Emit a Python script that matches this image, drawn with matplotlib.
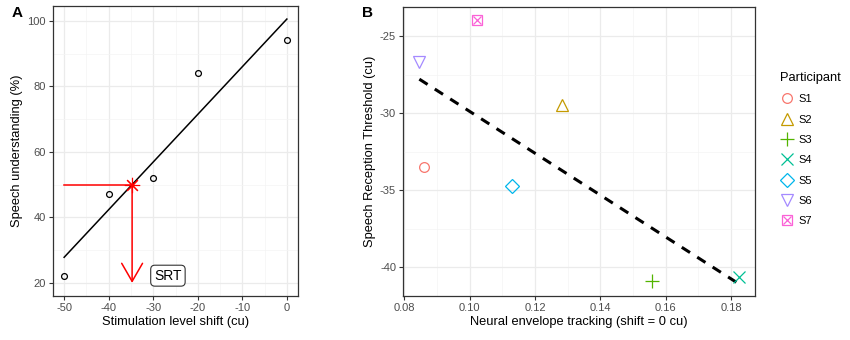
import numpy as np
import matplotlib
matplotlib.use("Agg")
import matplotlib.pyplot as plt
from matplotlib.lines import Line2D
from matplotlib.legend_handler import HandlerTuple

plt.rcParams['font.family'] = ['Liberation Sans', 'DejaVu Sans']
plt.rcParams['axes.unicode_minus'] = False

# Panel A data
shift_a = [-50, -40, -30, -20, 0]
understanding_a = [22, 47, 52, 84, 94]
srt_level = 50
arrow_bottom = 20

# Panel B data
participants = ["S1", "S2", "S3", "S4", "S5", "S6", "S7"]
tracking_b = [0.0860, 0.1281, 0.1557, 0.1824, 0.1131, 0.0846, 0.1021]
srt_b = [-33.52, -29.49, -40.86, -40.60, -34.73, -26.69, -23.94]
colors_b = ["#F8766D", "#C49A00", "#53B400", "#00C094", "#00B6EB", "#A58AFF", "#FB61D7"]
markers_b = ["o", "^", "+", "x", "D", "v", "sx"]
sizes_b = [7, 8.5, 10, 9, 7, 8.5, 7]

W, H = 850, 340
fig = plt.figure(figsize=(W / 100, H / 100), dpi=100)

def px_axes(l, t, r, b):
    return fig.add_axes([l / W, 1 - b / H, (r - l) / W, (b - t) / H])

GRID_MAJ = "#EBEBEB"
GRID_MIN = "#F4F4F4"
TICK_C = "#4D4D4D"

def style(ax):
    for s in ax.spines.values():
        s.set_color("#333333")
        s.set_linewidth(0.9)
    ax.set_axisbelow(True)
    ax.grid(True, which="major", color=GRID_MAJ, lw=0.9)
    ax.grid(True, which="minor", color=GRID_MIN, lw=0.5)
    ax.tick_params(which="major", colors="#333333", labelcolor=TICK_C,
                   labelsize=8, length=3, width=0.8, pad=2)
    ax.tick_params(which="minor", length=0)

# ---------- Panel A ----------
axA = px_axes(53, 6, 298, 296)
style(axA)
coef = np.polyfit(shift_a, understanding_a, 1)
xs = np.array([min(shift_a), max(shift_a)])
axA.plot(xs, np.polyval(coef, xs), color="black", lw=1.1, zorder=3)
axA.plot(shift_a, understanding_a, "o", mfc="none", mec="black", ms=4.2, mew=0.9, zorder=4)
srt_x = (srt_level - coef[1]) / coef[0]
axA.plot([min(shift_a), srt_x], [srt_level, srt_level], color="red", lw=1.1, zorder=3)
axA.annotate("", xy=(srt_x, arrow_bottom), xytext=(srt_x, srt_level),
             arrowprops=dict(arrowstyle="->,head_length=1.3,head_width=0.75",
                             mutation_scale=10, color="red", lw=1.1,
                             shrinkA=0, shrinkB=0), zorder=3)
axA.plot([srt_x], [srt_level], marker=(8, 2, 0), color="red", ms=11, mew=0.8, zorder=5)
axA.text(-26.7, 22.2, "SRT", fontsize=10, ha="center", va="center", color="black",
         bbox=dict(boxstyle="round,pad=0.25,rounding_size=0.3", fc="white", ec="#333333", lw=0.8))
axA.set_xlim(-52.5, 2.5)
axA.set_ylim(16, 104.5)
axA.set_xticks([-50, -40, -30, -20, -10, 0])
axA.set_xticks(np.arange(-45, 0, 10), minor=True)
axA.set_yticks([20, 40, 60, 80, 100])
axA.set_yticks([30, 50, 70, 90], minor=True)
axA.set_xlabel("Stimulation level shift (cu)", fontsize=9.3, labelpad=2)
axA.set_ylabel("Speech understanding (%)", fontsize=9.3, labelpad=3)
fig.text(12 / W, 1 - 13 / H, "A", fontsize=11, fontweight="bold", ha="left", va="center")

# ---------- Panel B ----------
axB = px_axes(403, 6.7, 755, 296)
style(axB)
cB = np.polyfit(tracking_b, srt_b, 1)
xb = np.array([min(tracking_b), max(tracking_b)])
axB.plot(xb, np.polyval(cB, xb), color="black", lw=2.2, ls=(0, (3.2, 2.8)), zorder=3)
handles = []
for x, y, c, m, s, lab in zip(tracking_b, srt_b, colors_b, markers_b, sizes_b, participants):
    if m == "sx":
        axB.plot([x], [y], "s", mfc="none", mec=c, ms=s, mew=0.9, zorder=4)
        axB.plot([x], [y], "x", color=c, ms=s * 0.8, mew=0.9, zorder=4)
        h = (Line2D([], [], ls="", marker="s", mfc="none", mec=c, ms=s, mew=0.9),
             Line2D([], [], ls="", marker="x", color=c, ms=s * 0.8, mew=0.9))
    else:
        axB.plot([x], [y], m, mfc="none", mec=c, color=c, ms=s, mew=0.9, zorder=4)
        h = Line2D([], [], ls="", marker=m, mfc="none", mec=c, color=c, ms=s, mew=0.9)
    handles.append(h)
axB.set_xlim(0.0796, 0.1873)
axB.set_ylim(-41.85, -23.1)
axB.set_xticks([0.08, 0.10, 0.12, 0.14, 0.16, 0.18])
axB.set_xticklabels(["0.08", "0.10", "0.12", "0.14", "0.16", "0.18"])
axB.set_xticks([0.09, 0.11, 0.13, 0.15, 0.17], minor=True)
axB.set_yticks([-40, -35, -30, -25])
axB.set_yticks([-37.5, -32.5, -27.5], minor=True)
axB.set_xlabel("Neural envelope tracking (shift = 0 cu)", fontsize=9.3, labelpad=2)
axB.set_ylabel("Speech Reception Threshold (cu)", fontsize=9.3, labelpad=3)
fig.text(362 / W, 1 - 13 / H, "B", fontsize=11, fontweight="bold", ha="left", va="center")

leg = fig.legend(handles, participants, loc="upper left",
                 bbox_to_anchor=(770 / W, 1 - 62 / H), frameon=False,
                 title="Participant", fontsize=8, title_fontsize=9.3,
                 handler_map={tuple: HandlerTuple(ndivide=1, pad=0)},
                 handlelength=1.2, handletextpad=0.5, labelspacing=0.93,
                 alignment="left")

fig.savefig("out.png", dpi=100)
